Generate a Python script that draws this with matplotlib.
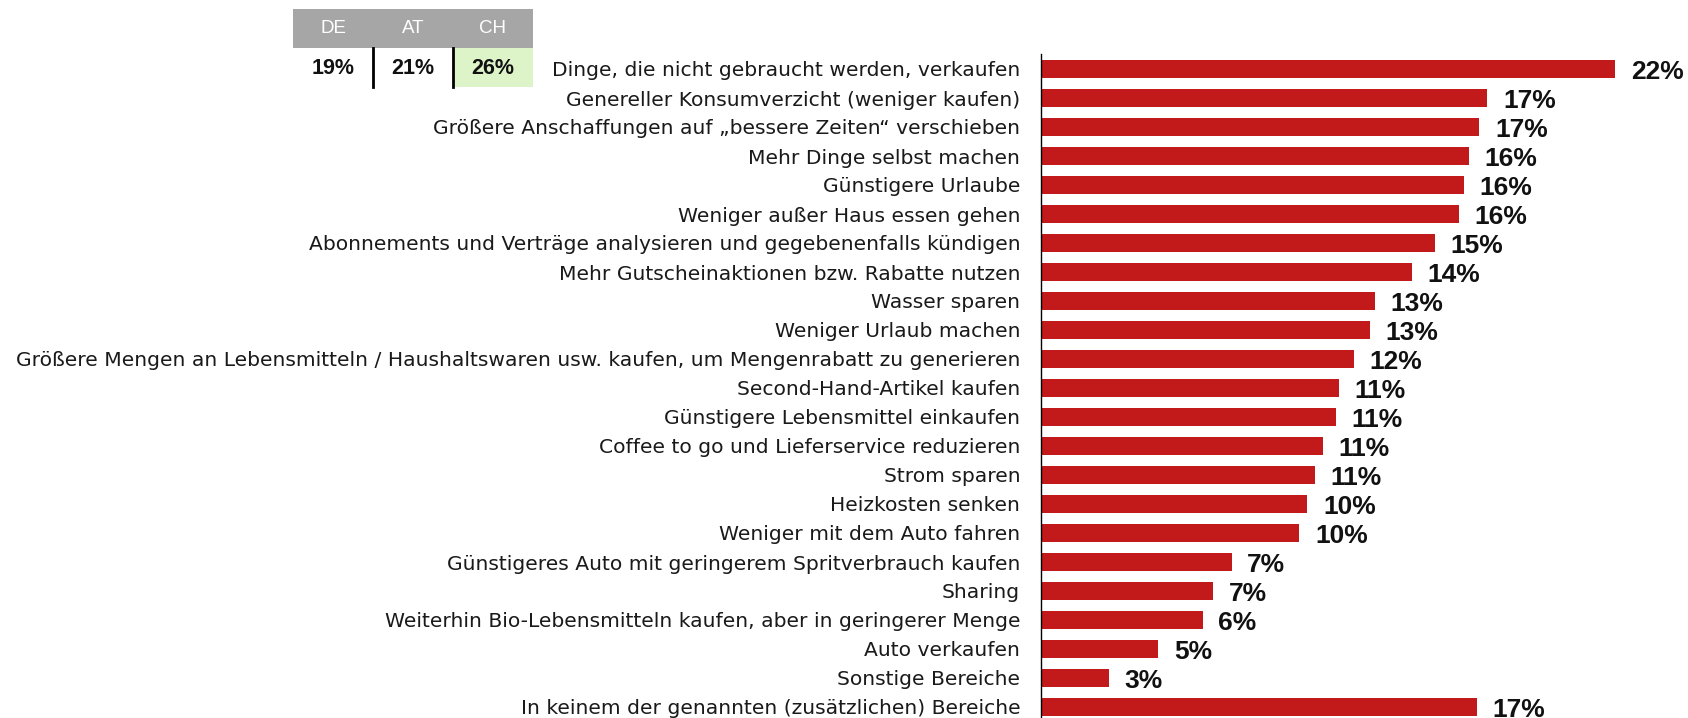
import matplotlib
matplotlib.use("Agg")
import matplotlib.pyplot as plt
from matplotlib.patches import Rectangle
from matplotlib.lines import Line2D

plt.rcParams['font.family'] = ['DejaVu Sans']

categories = [
    "Dinge, die nicht gebraucht werden, verkaufen",
    "Genereller Konsumverzicht (weniger kaufen)",
    "Größere Anschaffungen auf „bessere Zeiten“ verschieben",
    "Mehr Dinge selbst machen",
    "Günstigere Urlaube",
    "Weniger außer Haus essen gehen",
    "Abonnements und Verträge analysieren und gegebenenfalls kündigen",
    "Mehr Gutscheinaktionen bzw. Rabatte nutzen",
    "Wasser sparen",
    "Weniger Urlaub machen",
    "Größere Mengen an Lebensmitteln / Haushaltswaren usw. kaufen, um Mengenrabatt zu generieren",
    "Second-Hand-Artikel kaufen",
    "Günstigere Lebensmittel einkaufen",
    "Coffee to go und Lieferservice reduzieren",
    "Strom sparen",
    "Heizkosten senken",
    "Weniger mit dem Auto fahren",
    "Günstigeres Auto mit geringerem Spritverbrauch kaufen",
    "Sharing",
    "Weiterhin Bio-Lebensmitteln kaufen, aber in geringerer Menge",
    "Auto verkaufen",
    "Sonstige Bereiche",
    "In keinem der genannten (zusätzlichen) Bereiche",
]
values = [22.0, 17.1, 16.8, 16.4, 16.2, 16.0, 15.1, 14.2, 12.8, 12.6, 12.0, 11.4, 11.3,
          10.8, 10.5, 10.2, 9.9, 7.3, 6.6, 6.2, 4.5, 2.6, 16.7]
labels = ["22%", "17%", "17%", "16%", "16%", "16%", "15%", "14%", "13%", "13%", "12%", "11%",
          "11%", "11%", "11%", "10%", "10%", "7%", "7%", "6%", "5%", "3%", "17%"]

table_headers = ["DE", "AT", "CH"]
table_values = ["19%", "21%", "26%"]

W, H = 1688, 718
fig = plt.figure(figsize=(W / 100, H / 100), dpi=100)

def fx(px):
    return px / W

def fy(py):
    return 1 - py / H

ax_left, ax_right, ax_top, ax_bottom = 1041, 1688, 54, 718
ax = fig.add_axes([fx(ax_left), fy(ax_bottom), fx(ax_right - ax_left), (ax_bottom - ax_top) / H])
n = len(categories)
ypos = list(range(n))
ax.barh(ypos, values, height=0.59, color="#C21A1A", edgecolor="none")
ax.set_xlim(0, (ax_right - ax_left) / 26.1)
ax.set_ylim(n - 1 + (718 - 707) / 29, -(69 - 54) / 29)
for s in ["top", "right", "bottom"]:
    ax.spines[s].set_visible(False)
ax.spines["left"].set_linewidth(1.0)
ax.spines["left"].set_color("#000000")
ax.set_xticks([])
ax.set_yticks(ypos)
ax.set_yticklabels(categories, fontsize=14.6, color="#1a1a1a")
ax.tick_params(axis="y", length=0, pad=15)
for y, v, lab in zip(ypos, values, labels):
    ax.text(v + 0.6, y + 0.1, lab, ha="left", va="center", fontsize=19, fontweight="bold",
            color="#111111", family=["Liberation Sans", "DejaVu Sans"])

# Table
col_x = [293, 373, 453, 533]
hdr_top, hdr_bot = 9, 48
row_bot = 87
fig.add_artist(Rectangle((fx(col_x[0]), fy(hdr_bot)), fx(col_x[3] - col_x[0]), (hdr_bot - hdr_top) / H,
                         transform=fig.transFigure, facecolor="#A6A6A6", edgecolor="none"))
fig.add_artist(Rectangle((fx(col_x[2]), fy(row_bot)), fx(col_x[3] - col_x[2]), (row_bot - hdr_bot) / H,
                         transform=fig.transFigure, facecolor="#DDF3C8", edgecolor="none"))
for i, (h, v) in enumerate(zip(table_headers, table_values)):
    cx = (col_x[i] + col_x[i + 1]) / 2
    fig.text(fx(cx), fy((hdr_top + hdr_bot) / 2), h, ha="center", va="center", fontsize=13.5,
             color="white", family=["Liberation Sans", "DejaVu Sans"])
    fig.text(fx(cx), fy(69), v, ha="center", va="center", fontsize=15.5, fontweight="bold",
             color="#111111", family=["Liberation Sans", "DejaVu Sans"])
for xline in col_x[1:3]:
    fig.add_artist(Line2D([fx(xline), fx(xline)], [fy(hdr_bot), fy(row_bot)], transform=fig.transFigure,
                          color="black", linewidth=2))

fig.savefig("out.png", dpi=100)
